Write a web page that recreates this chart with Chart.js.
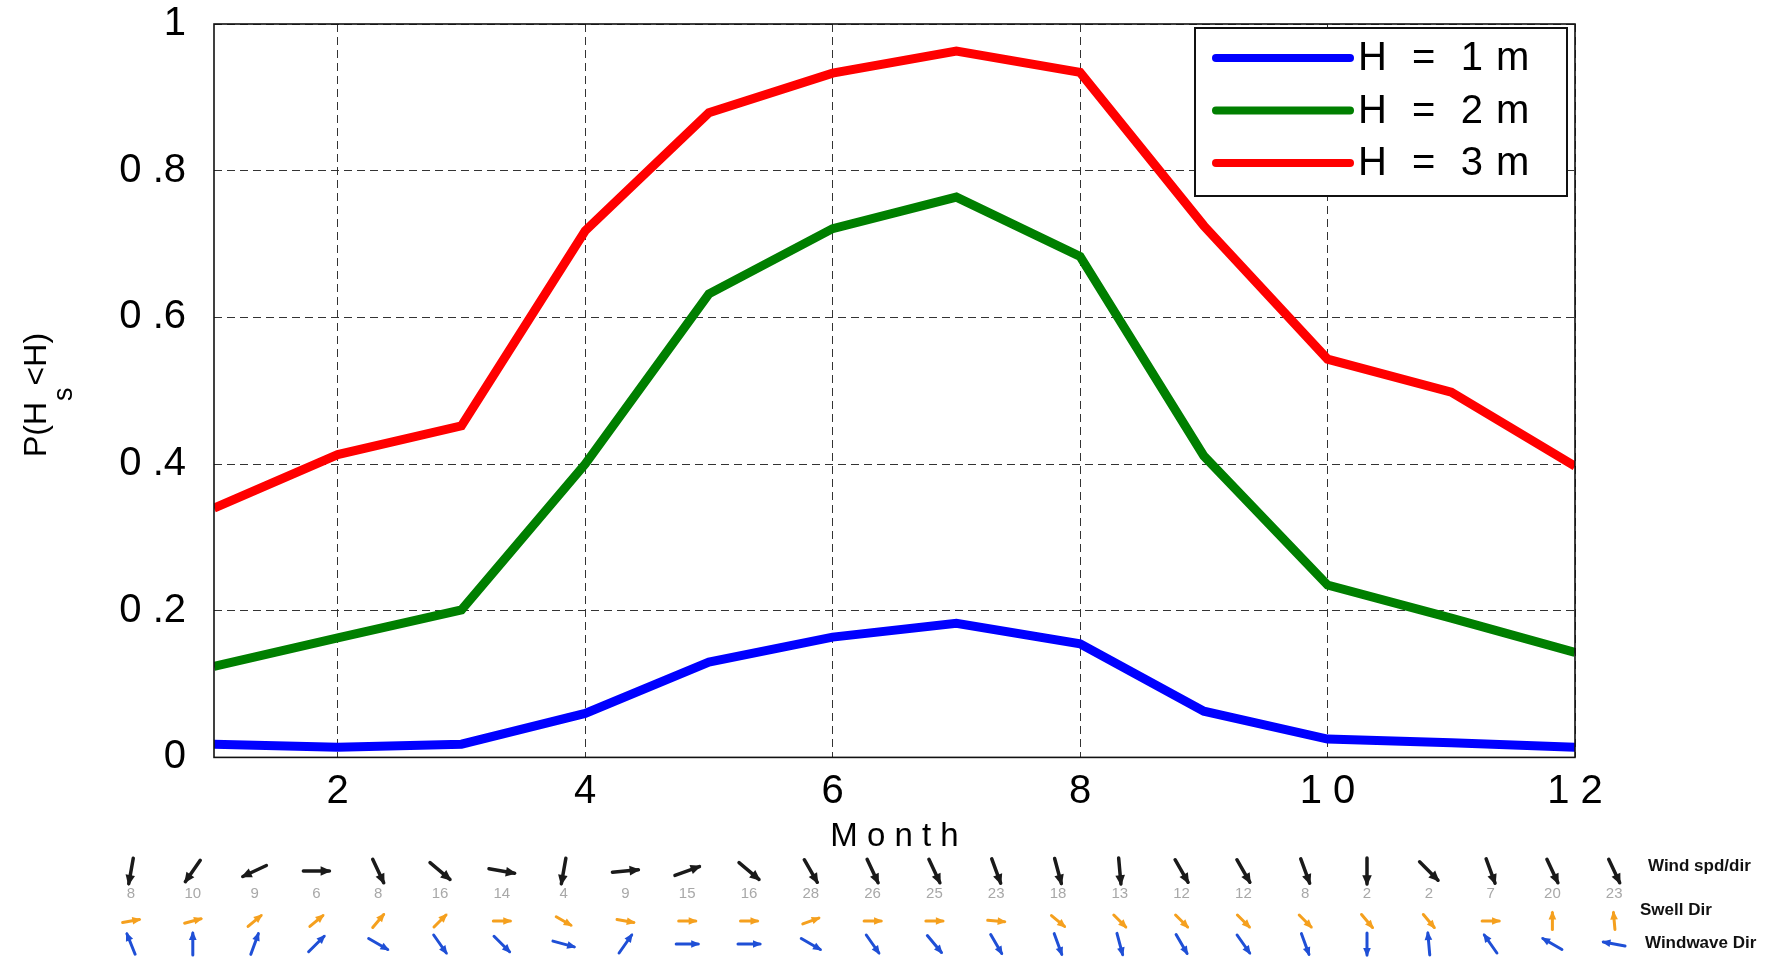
<!DOCTYPE html>
<html><head><meta charset="utf-8">
<script src="https://cdn.jsdelivr.net/npm/chart.js@4.4.1/dist/chart.umd.min.js"></script>
<style>html,body{margin:0;padding:0;background:#fff;overflow:hidden}</style>
</head><body>
<canvas id="c" width="1769" height="957" style="display:block;width:1769px;height:957px"></canvas>
<script>
// ---------- data ----------
const months = [1,2,3,4,5,6,7,8,9,10,11,12];
const probH1 = [0.018,0.014,0.018,0.060,0.130,0.164,0.183,0.155,0.063,0.025,0.020,0.014];
const probH2 = [0.124,0.163,0.201,0.400,0.632,0.721,0.764,0.683,0.411,0.235,0.190,0.143];
const probH3 = [0.340,0.413,0.452,0.718,0.879,0.933,0.963,0.934,0.725,0.543,0.498,0.397];
const seriesLabels = ['H  =  1 m','H  =  2 m','H  =  3 m'];
const seriesColors = ['#0000ff','#007f00','#ff0000'];
const xTicks = [2,4,6,8,10,12];
const xTickLabels = ['2','4','6','8','1 0','1 2'];
const yTicks = [0,0.2,0.4,0.6,0.8,1];
const yTickLabels = ['0','0 .2','0 .4','0 .6','0 .8','1'];
const xTitle = 'M o n t h';
const yTitleParts = ['P(H','s','<H)'];
// bottom strip (wind / swell / wind-wave)
const stripNumbers = [8,10,9,6,8,16,14,4,9,15,16,28,26,25,23,18,13,12,12,8,2,2,7,20,23];
const windDir  = [100,125,155,0,65,40,10,100,-5,-20,40,60,65,65,70,75,85,60,60,70,90,45,70,65,65];
const swellDir = [-10,-15,-40,-40,-50,-45,0,30,10,0,0,-20,0,0,5,40,45,45,45,45,50,50,0,-90,-95];
const waveDir  = [-112,-90,-70,-45,30,55,45,15,-55,0,0,30,55,50,60,70,75,60,55,70,90,-95,-125,-150,-170];
const stripLabels = ['Wind spd/dir','Swell Dir','Windwave Dir'];

const FONT = '"Liberation Sans", Arial, Helvetica, sans-serif';
Chart.defaults.font.family = FONT;
Chart.defaults.color = '#000';

function arrow(ctx, cx, cy, deg, len, color, w, head){
  const a = deg*Math.PI/180, dx = Math.cos(a)*len/2, dy = Math.sin(a)*len/2;
  ctx.strokeStyle = color; ctx.fillStyle = color; ctx.lineWidth = w; ctx.lineCap='round';
  ctx.beginPath(); ctx.moveTo(cx-dx, cy-dy); ctx.lineTo(cx+dx, cy+dy); ctx.stroke();
  const hx = cx+dx, hy = cy+dy, hl = head;
  ctx.beginPath();
  ctx.moveTo(hx+Math.cos(a)*2, hy+Math.sin(a)*2);
  ctx.lineTo(hx-Math.cos(a-0.5)*hl, hy-Math.sin(a-0.5)*hl);
  ctx.lineTo(hx-Math.cos(a+0.5)*hl, hy-Math.sin(a+0.5)*hl);
  ctx.closePath(); ctx.fill();
}

const decorPlugin = {
  id:'decor',
  afterDraw(chart){
    const ctx = chart.ctx, ca = chart.chartArea;
    ctx.save();
    // axes box
    ctx.strokeStyle = '#111'; ctx.lineWidth = 1.6; ctx.setLineDash([]);
    ctx.strokeRect(ca.left, ca.top, ca.right-ca.left, ca.bottom-ca.top);
    // legend box
    const lx = ca.right-380, ly = ca.top+4, lw = 372, lh = 168;
    ctx.fillStyle = '#fff'; ctx.fillRect(lx, ly, lw, lh);
    ctx.strokeStyle = '#111'; ctx.lineWidth = 2; ctx.strokeRect(lx, ly, lw, lh);
    chart.data.datasets.forEach((ds, i) => {
      const y = ly + 30 + i*52.5;
      ctx.strokeStyle = ds.borderColor; ctx.lineWidth = 8; ctx.lineCap='round';
      ctx.beginPath(); ctx.moveTo(lx+21, y); ctx.lineTo(lx+155, y); ctx.stroke();
      ctx.fillStyle = '#000'; ctx.font = '40px '+FONT; ctx.textBaseline='middle'; ctx.textAlign='left';
      ctx.letterSpacing = '1px';
      ctx.fillText(ds.label, lx+163, y+1);
      ctx.letterSpacing = '0px';
    });
    // y title with subscript
    ctx.save();
    ctx.translate(46, 457); ctx.rotate(-Math.PI/2);
    ctx.fillStyle = '#000'; ctx.textBaseline='alphabetic'; ctx.textAlign='left';
    ctx.font = '32px '+FONT;
    ctx.fillText(yTitleParts[0], 0, 0);
    const w0 = ctx.measureText(yTitleParts[0]).width;
    ctx.font = '27px '+FONT;
    ctx.fillText(yTitleParts[1], w0+1, 26);
    const w1 = ctx.measureText(yTitleParts[1]).width;
    ctx.font = '32px '+FONT;
    ctx.fillText(yTitleParts[2], w0+w1+3, 0);
    ctx.restore();
    // bottom strip
    ctx.filter = 'blur(0.6px)';
    const x0 = 131, step = 61.8;
    stripNumbers.forEach((n, i) => {
      const x = x0 + step*i;
      arrow(ctx, x, 871, windDir[i], 26, '#1a1a1a', 3.5, 10);
      ctx.fillStyle = '#a8a8a8'; ctx.font = '15px '+FONT; ctx.textAlign='center'; ctx.textBaseline='middle';
      ctx.fillText(String(n), x, 894);
      arrow(ctx, x, 921, swellDir[i], 17, '#f5a01e', 3, 8);
      arrow(ctx, x, 944, waveDir[i], 22, '#1f4fd6', 3, 8);
    });
    ctx.fillStyle = '#111'; ctx.font = 'bold 17px "Liberation Sans Narrow", "Liberation Sans", Arial, sans-serif';
    ctx.textAlign='left'; ctx.textBaseline='middle';
    ctx.fillText(stripLabels[0], 1648, 866);
    ctx.fillText(stripLabels[1], 1640, 910);
    ctx.fillText(stripLabels[2], 1645, 943);
    ctx.filter = 'none';
    ctx.restore();
  }
};

const mkData = arr => months.map((m, i) => ({x: m, y: arr[i]}));

new Chart(document.getElementById('c'), {
  type: 'line',
  data: {
    datasets: [
      {label: seriesLabels[0], data: mkData(probH1), borderColor: seriesColors[0]},
      {label: seriesLabels[1], data: mkData(probH2), borderColor: seriesColors[1]},
      {label: seriesLabels[2], data: mkData(probH3), borderColor: seriesColors[2]}
    ]
  },
  options: {
    responsive: false, animation: false, devicePixelRatio: 1,
    layout: {padding: {left: 0, top: 24, right: 194, bottom: 100}},
    plugins: {legend: {display: false}, tooltip: {enabled: false}},
    elements: {point: {radius: 0}, line: {borderWidth: 9, tension: 0, fill: false}},
    scales: {
      x: {
        type: 'linear', min: 1, max: 12,
        afterBuildTicks: s => { s.ticks = xTicks.map(v => ({value: v})); },
        afterFit: s => { s.paddingLeft = 0; s.paddingRight = 0; },
        grid: {color: '#333', lineWidth: 1, drawTicks: false},
        border: {display: false, dash: [8, 5]},
        ticks: {font: {size: 40}, color: '#000', padding: 11, maxRotation: 0, autoSkip: false,
                callback: v => xTickLabels[xTicks.indexOf(v)]},
        title: {display: true, text: xTitle, font: {size: 33}, color: '#000', padding: {top: -10, bottom: 0}}
      },
      y: {
        min: 0, max: 1,
        afterBuildTicks: s => { s.ticks = yTicks.map(v => ({value: v})); },
        afterFit: s => { s.width = 214; s.paddingTop = 0; s.paddingBottom = 0; },
        grid: {color: '#333', lineWidth: 1, drawTicks: false},
        border: {display: false, dash: [8, 5]},
        ticks: {font: {size: 40}, color: '#000', padding: 28,
                callback: v => yTickLabels[yTicks.findIndex(t => Math.abs(t - v) < 1e-9)]}
      }
    }
  },
  plugins: [decorPlugin]
});
</script>
</body></html>
